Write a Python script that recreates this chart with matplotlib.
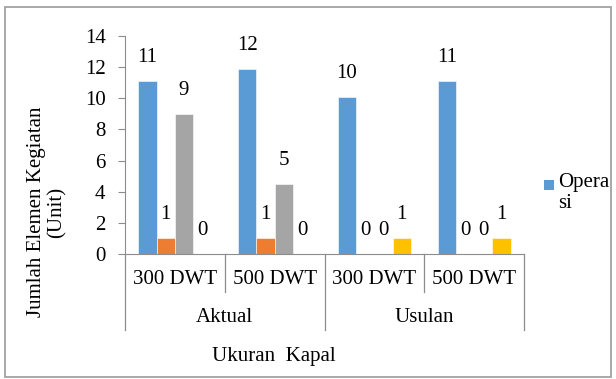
import matplotlib
matplotlib.use("Agg")
import matplotlib.pyplot as plt
import matplotlib.transforms as mtransforms
from matplotlib.patches import Rectangle
from matplotlib.lines import Line2D
import numpy as np

# ---- data ----
inner_labels = ["300 DWT", "500 DWT", "300 DWT", "500 DWT"]
outer_labels = ["Aktual", "Usulan"]
outer_span = [2, 2]
series_names = ["Operasi", "Seri 2", "Seri 3", "Seri 4"]
operasi = [11.1, 11.9, 10.1, 11.1]
seri2 = [1, 1, 0, 0]
seri3 = [9, 4.5, 0, 0]
seri4 = [0, 0, 1, 1]
series_values = [operasi, seri2, seri3, seri4]
colors = ["#5B9BD5", "#ED7D31", "#A5A5A5", "#FFC000"]
y_label = "Jumlah Elemen Kegiatan\n(Unit)"
x_label = "Ukuran  Kapal"
legend_label = "Opera\nsi"

plt.rcParams['font.family'] = ['Liberation Serif', 'DejaVu Serif']
FS = 15

W, H = 616, 379
fig = plt.figure(figsize=(W / 100, H / 100), dpi=100)
ax = fig.add_axes([125 / W, 1 - 254 / H, (524 - 125) / W, (254 - 36) / H])

n_groups = len(inner_labels)
n_series = len(series_values)
bar_w = 0.183
x = np.arange(n_groups)
axis_col = "#8C8C8C"

for i, vals in enumerate(series_values):
    off = (i - (n_series - 1) / 2) * bar_w
    bars = ax.bar(x + off, vals, width=bar_w, color=colors[i],
                  edgecolor="white", linewidth=0.4, label=series_names[i])
    for xi, v in zip(x + off, vals):
        ax.annotate(f"{int(v + 0.5)}", xy=(xi, v), xytext=(0, 17),
                    textcoords="offset points", ha="center", va="center",
                    fontsize=FS)

ax.set_xlim(-0.5, n_groups - 0.5)
ax.set_ylim(0, 14)
ax.set_yticks(np.arange(0, 15, 2))
ax.tick_params(axis="y", labelsize=FS, length=5, color=axis_col, pad=9)
ax.set_xticks([])
for s in ["top", "right"]:
    ax.spines[s].set_visible(False)
ax.spines["left"].set_color(axis_col)
ax.spines["bottom"].set_color(axis_col)

trans = mtransforms.blended_transform_factory(ax.transData, ax.transAxes)
y_inner_bot = -38 / 218
y_outer_bot = -76 / 218
# inner labels and separators
for i, lab in enumerate(inner_labels):
    ax.text(i, -25 / 218, lab, transform=trans, ha="center", va="center",
            fontsize=FS)
bounds = [-0.5]
pos = -0.5
for span in outer_span:
    pos += span
    bounds.append(pos)
for b in np.arange(-0.5, n_groups, 1.0):
    bot = y_outer_bot if b in bounds else y_inner_bot
    ax.add_line(Line2D([b, b], [0, bot], transform=trans, color=axis_col,
                       linewidth=0.9, clip_on=False))
start = -0.5
for lab, span in zip(outer_labels, outer_span):
    ax.text(start + span / 2, -63 / 218, lab, transform=trans, ha="center",
            va="center", fontsize=FS)
    start += span

fig.text(274 / W, 1 - 356 / H, x_label, ha="center", va="center", fontsize=FS)
fig.text(47 / W, 1 - 212 / H, y_label, ha="center", va="center", fontsize=FS,
         rotation=90, multialignment="center", linespacing=1.1)

# legend (only first entry visible, as in reference)
fig.patches.append(Rectangle((544 / W, 1 - 190 / H), 10 / W, 10 / H,
                             transform=fig.transFigure, facecolor=colors[0],
                             edgecolor="none"))
fig.text(558 / W, 1 - 173 / H, legend_label, ha="left", va="top",
         fontsize=FS, linespacing=1.15)

# outer border
fig.patches.append(Rectangle((5 / W, 2 / H), 606 / W, 370 / H,
                             transform=fig.transFigure, facecolor="none",
                             edgecolor="#9A9A9A", linewidth=1.2))

fig.savefig("out.png", dpi=100)
